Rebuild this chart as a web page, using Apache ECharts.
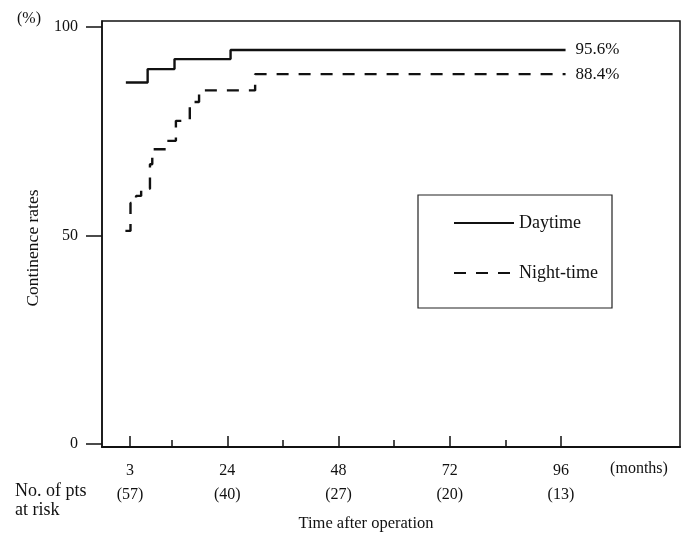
<!DOCTYPE html>
<html>
<head>
<meta charset="utf-8">
<script src="https://cdn.jsdelivr.net/npm/echarts@6/dist/echarts.min.js"></script>
<style>html,body{margin:0;padding:0;background:#fff}#c{width:693px;height:535px}</style>
</head>
<body>
<div id="c"></div>
<script>
// ---- data (months, continence rate %) ----
const seriesNames = ['Daytime', 'Night-time'];
const daytime = [[2.1, 86.7], [6.8, 89.9], [12.6, 92.3], [24.7, 94.5], [97, 94.5]];
const nighttime = [[2.0, 51.1], [3.1, 57.8], [4.3, 59.5], [5.4, 61.2], [7.3, 67.1], [7.8, 70.7],
                   [10.8, 72.7], [12.9, 77.5], [15.9, 82.0], [17.9, 84.8], [30.0, 88.7], [97, 88.7]];
const endLabels = ['95.6%', '88.4%'];
const xTickLabels = [3, 24, 48, 72, 96];
const xMinorTicks = [12, 36, 60, 84];
const riskCounts = [57, 40, 27, 20, 13];
const yTickLabels = [0, 50, 100];

const FONT = '"Liberation Serif", "DejaVu Serif", serif';
const INK = '#111';
const riskMap = {};
xTickLabels.forEach((v, i) => { riskMap[v] = riskCounts[i]; });

const chart = echarts.init(document.getElementById('c'), null, {renderer: 'canvas'});
const xBase = {type: 'value', min: -3.05, max: 121.7, gridIndex: 0, position: 'bottom', splitLine: {show: false}};
chart.setOption({
  animation: false,
  backgroundColor: '#fff',
  grid: {left: 102, right: 13, top: 21, bottom: 88, show: true, borderColor: INK, borderWidth: 1.5, backgroundColor: 'transparent'},
  xAxis: [
    Object.assign({}, xBase, {
      axisLine: {show: true, onZero: false, lineStyle: {color: INK, width: 2}},
      axisTick: {show: true, inside: true, length: 11, customValues: xTickLabels, lineStyle: {color: INK, width: 1.5}},
      axisLabel: {show: true, customValues: xTickLabels, margin: 16, color: INK, fontSize: 16, fontFamily: FONT}
    }),
    Object.assign({}, xBase, {
      axisLine: {show: false, onZero: false},
      axisTick: {show: true, inside: true, length: 7, customValues: xMinorTicks, lineStyle: {color: INK, width: 1.5}},
      axisLabel: {show: false}
    }),
    Object.assign({}, xBase, {
      offset: 24,
      axisLine: {show: false, onZero: false},
      axisTick: {show: false},
      axisLabel: {show: true, customValues: xTickLabels, margin: 16, color: INK, fontSize: 16, fontFamily: FONT,
                  formatter: v => '(' + riskMap[v] + ')'}
    })
  ],
  yAxis: {
    type: 'value', min: -0.72, max: 101.44,
    splitLine: {show: false},
    axisLine: {show: true, onZero: false, lineStyle: {color: INK, width: 1.5}},
    axisTick: {show: true, inside: false, length: 16, customValues: yTickLabels, lineStyle: {color: INK, width: 1.5}},
    axisLabel: {show: true, customValues: yTickLabels, margin: 24, color: INK, fontSize: 16, fontFamily: FONT}
  },
  legend: {
    data: seriesNames, orient: 'vertical', left: 448, top: 209,
    itemWidth: 60, itemHeight: 14, itemGap: 32, selectedMode: false,
    itemStyle: {opacity: 0},
    textStyle: {color: INK, fontSize: 18, fontFamily: FONT}
  },
  series: [
    {name: seriesNames[0], type: 'line', step: 'end', symbol: 'none', xAxisIndex: 0, data: daytime,
     lineStyle: {color: INK, width: 2.4, type: 'solid'}, itemStyle: {color: INK},
     endLabel: {show: true, formatter: endLabels[0], distance: 10, color: INK, fontSize: 17, fontFamily: FONT}},
    {name: seriesNames[1], type: 'line', step: 'end', symbol: 'none', xAxisIndex: 0, data: nighttime,
     lineStyle: {color: INK, width: 2.4, type: [12, 10]}, itemStyle: {color: INK},
     endLabel: {show: true, formatter: endLabels[1], distance: 10, color: INK, fontSize: 17, fontFamily: FONT}}
  ],
  graphic: [
    {type: 'rect', shape: {x: 418, y: 195, width: 194, height: 113}, style: {fill: 'none', stroke: '#222', lineWidth: 1.2}},
    {type: 'text', x: 29, y: 19, style: {text: '(%)', fill: INK, font: '16px ' + FONT, textAlign: 'center', textVerticalAlign: 'middle'}},
    {type: 'text', x: 33, y: 248, rotation: Math.PI / 2, style: {text: 'Continence rates', fill: INK, font: '17.5px ' + FONT, textAlign: 'center', textVerticalAlign: 'middle'}},
    {type: 'text', x: 639, y: 469, style: {text: '(months)', fill: INK, font: '16px ' + FONT, textAlign: 'center', textVerticalAlign: 'middle'}},
    {type: 'text', x: 15, y: 491, style: {text: 'No. of pts', fill: INK, font: '18px ' + FONT, textAlign: 'left', textVerticalAlign: 'middle'}},
    {type: 'text', x: 15, y: 510, style: {text: 'at risk', fill: INK, font: '18px ' + FONT, textAlign: 'left', textVerticalAlign: 'middle'}},
    {type: 'text', x: 366, y: 524, style: {text: 'Time after operation', fill: INK, font: '16.5px ' + FONT, textAlign: 'center', textVerticalAlign: 'middle'}}
  ]
});
</script>
</body>
</html>
